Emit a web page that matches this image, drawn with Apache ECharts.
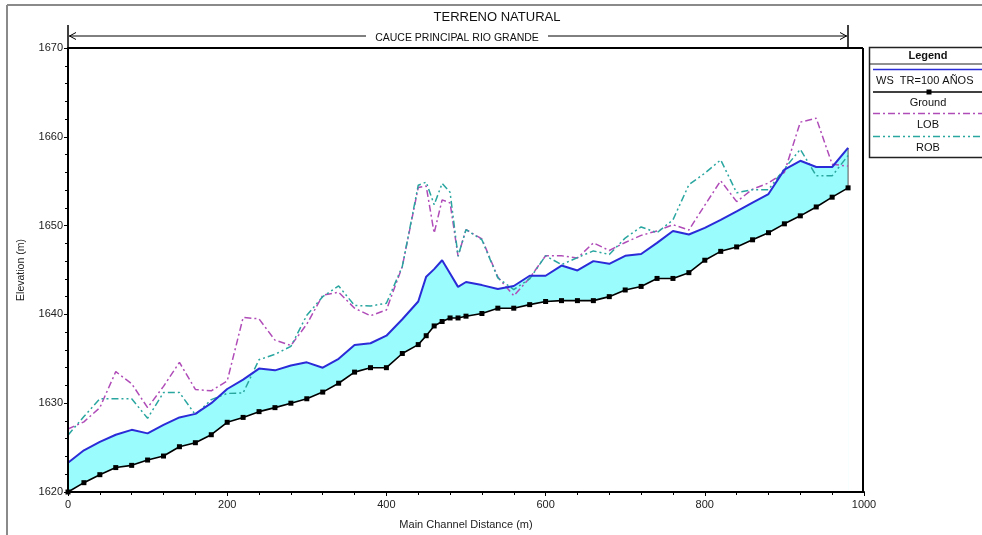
<!DOCTYPE html>
<html>
<head>
<meta charset="utf-8">
<title>TERRENO NATURAL</title>
<script src="https://cdn.jsdelivr.net/npm/echarts@6/dist/echarts.min.js"></script>
<style>
  html, body { margin: 0; padding: 0; background: #fff; }
  #chart { width: 982px; height: 535px; }
</style>
</head>
<body>
<div id="chart"></div>
<script>
// Profile stations along the main channel (m)
const stations = [0, 20, 40, 60, 80, 100, 120, 140, 160, 180, 200, 220, 240, 260, 280, 300, 320, 340, 360, 380, 400, 420, 440,
  450, 460, 470, 480, 490, 500, 520, 540, 560, 580, 600, 620, 640, 660, 680, 700, 720, 740, 760, 780, 800, 820, 840, 860, 880,
  900, 920, 940, 960, 980];

// Water surface, TR = 100 años (m)
const wsElev = [1623.3, 1624.7, 1625.65, 1626.45, 1627.0, 1626.6, 1627.55, 1628.4, 1628.8, 1630.0, 1631.6, 1632.65, 1633.9,
  1633.7, 1634.25, 1634.6, 1634.0, 1635.0, 1636.55, 1636.75, 1637.6, 1639.45, 1641.45,
  1644.25, 1645.1, 1646.1, 1644.6, 1643.1, 1643.65, 1643.3, 1642.85, 1643.2, 1644.35, 1644.35, 1645.5, 1644.95, 1646.0,
  1645.7, 1646.6, 1646.8, 1648.05, 1649.4, 1649.0, 1649.75, 1650.65, 1651.6, 1652.6, 1653.55,
  1656.3, 1657.3, 1656.6, 1656.6, 1658.75];

// Channel bed (m)
const groundElev = [1620.0, 1621.05, 1621.95, 1622.75, 1623.0, 1623.6, 1624.05, 1625.1, 1625.55, 1626.45, 1627.85, 1628.4,
  1629.05, 1629.5, 1630.0, 1630.5, 1631.25, 1632.25, 1633.5, 1634.0, 1634.0, 1635.6, 1636.6,
  1637.6, 1638.7, 1639.2, 1639.6, 1639.6, 1639.8, 1640.1, 1640.7, 1640.7, 1641.1, 1641.45, 1641.55, 1641.55, 1641.55,
  1642.0, 1642.75, 1643.15, 1644.05, 1644.05, 1644.7, 1646.1, 1647.1, 1647.6, 1648.4, 1649.2,
  1650.2, 1651.1, 1652.1, 1653.2, 1654.25];

// Left overbank (m)
const lobElev = [1627.1, 1627.9, 1629.5, 1633.55, 1632.2, 1629.5, 1631.9, 1634.6, 1631.55, 1631.4, 1632.5, 1639.65, 1639.5,
  1637.1, 1636.5, 1638.9, 1642.15, 1642.5, 1640.7, 1639.85, 1640.5, 1645.4, 1654.3,
  1654.45, 1649.15, 1652.9, 1652.55, 1646.55, 1649.55, 1648.5, 1644.2, 1642.1, 1644.1, 1646.6, 1646.6, 1646.35, 1648.05,
  1647.2, 1648.1, 1648.9, 1649.4, 1650.1, 1649.5, 1652.3, 1655.05, 1652.7, 1654.1, 1654.8,
  1656.0, 1661.65, 1662.1, 1656.9, 1656.7];

// Right overbank (m)
const robElev = [1626.4, 1628.5, 1630.5, 1630.5, 1630.5, 1628.3, 1631.2, 1631.2, 1628.7, 1630.4, 1631.1, 1631.15, 1634.9,
  1635.5, 1636.4, 1639.9, 1642.0, 1643.2, 1641.0, 1640.95, 1641.25, 1645.4, 1654.55,
  1654.9, 1652.35, 1654.75, 1653.75, 1646.55, 1649.55, 1648.4, 1644.1, 1642.8, 1644.0, 1646.6, 1645.6, 1646.4, 1647.15,
  1646.75, 1648.6, 1649.85, 1649.2, 1650.65, 1654.6, 1655.9, 1657.4, 1653.7, 1654.05, 1654.05,
  1656.4, 1658.6, 1655.6, 1655.6, 1657.9];

const yTicks = [1620, 1630, 1640, 1650, 1660, 1670];
const xTicks = [0, 200, 400, 600, 800, 1000];

const FONT = "'Liberation Sans', Arial, sans-serif";
const pairs = (ys) => stations.map((x, i) => [x, ys[i]]);
const last = stations.length - 1;

const grid = { left: 68, top: 48, width: 796, height: 444 };

const chart = echarts.init(document.getElementById('chart'), null, { renderer: 'canvas' });

chart.setOption({
  animation: false,
  backgroundColor: '#ffffff',
  grid: grid,
  xAxis: {
    type: 'value', z: 10,
    min: xTicks[0], max: xTicks[xTicks.length - 1], interval: 200,
    name: 'Main Channel Distance (m)',
    nameLocation: 'middle', nameGap: 27,
    nameTextStyle: { fontFamily: FONT, fontSize: 11, color: '#222' },
    axisLine: { lineStyle: { color: '#000', width: 2 } },
    axisTick: { show: true, inside: false, length: 4, lineStyle: { color: '#000', width: 1 } },
    minorTick: { show: true, splitNumber: 5, length: 3, lineStyle: { color: '#000', width: 1 } },
    axisLabel: { fontFamily: FONT, fontSize: 11, color: '#222', margin: 7, formatter: (v) => String(v) },
    splitLine: { show: false }
  },
  yAxis: {
    type: 'value', z: 10,
    min: yTicks[0], max: yTicks[yTicks.length - 1], interval: 10,
    name: 'Elevation (m)',
    nameLocation: 'middle', nameGap: 41,
    nameTextStyle: { fontFamily: FONT, fontSize: 10.5, color: '#222' },
    axisLine: { show: true, lineStyle: { color: '#000', width: 2 } },
    axisTick: { show: true, inside: false, length: 4, lineStyle: { color: '#000', width: 1 } },
    minorTick: { show: true, splitNumber: 5, length: 3, lineStyle: { color: '#000', width: 1 } },
    axisLabel: { fontFamily: FONT, fontSize: 11, color: '#222', margin: 5, formatter: (v) => String(v) },
    splitLine: { show: false }
  },
  series: [
    // water body: fill under the water surface, then mask below the bed
    {
      type: 'line', data: pairs(wsElev), symbol: 'none', silent: true,
      lineStyle: { opacity: 0 }, areaStyle: { color: '#9afcfc', opacity: 1, origin: 'start' }, z: 1
    },
    {
      type: 'line', data: pairs(groundElev), symbol: 'none', silent: true,
      lineStyle: { opacity: 0 }, areaStyle: { color: '#ffffff', opacity: 1, origin: 'start' }, z: 1
    },
    // closing edge at the last station
    {
      type: 'line', data: [[stations[last], groundElev[last]], [stations[last], wsElev[last]]], symbol: 'none',
      lineStyle: { color: '#555', width: 1 }, z: 2
    },
    {
      name: 'LOB', type: 'line', data: pairs(lobElev), symbol: 'none',
      lineStyle: { color: '#b04cb8', width: 1.5, type: [7, 3, 2, 3] }, z: 3
    },
    {
      name: 'ROB', type: 'line', data: pairs(robElev), symbol: 'none',
      lineStyle: { color: '#2aa6a0', width: 1.5, type: [7, 3, 2, 3, 2, 3] }, z: 3
    },
    {
      name: 'Ground', type: 'line', data: pairs(groundElev),
      symbol: 'rect', symbolSize: 5, itemStyle: { color: '#000' },
      lineStyle: { color: '#000', width: 1.6 }, z: 4
    },
    {
      name: 'WS  TR=100 AÑOS', type: 'line', data: pairs(wsElev), symbol: 'none',
      lineStyle: { color: '#2b2bd8', width: 2 }, z: 5
    }
  ],
  graphic: [
    // page frame
    { type: 'line', shape: { x1: 7, y1: 5, x2: 982, y2: 5 }, style: { stroke: '#8a8a8a', lineWidth: 2 } },
    { type: 'line', shape: { x1: 7, y1: 5, x2: 7, y2: 535 }, style: { stroke: '#8a8a8a', lineWidth: 2 } },
    // plot frame (top and right)
    { type: 'line', shape: { x1: 68, y1: 48, x2: 863, y2: 48 }, style: { stroke: '#000', lineWidth: 2 } },
    { type: 'line', shape: { x1: 863, y1: 48, x2: 863, y2: 492 }, style: { stroke: '#000', lineWidth: 2 } },
    // title
    { type: 'text', x: 497, y: 17, style: { text: 'TERRENO NATURAL', font: '13px ' + FONT, fill: '#111', align: 'center', verticalAlign: 'middle' } },
    // reach marker with arrows
    { type: 'line', shape: { x1: 68, y1: 25, x2: 68, y2: 48 }, style: { stroke: '#000', lineWidth: 1.5 } },
    { type: 'line', shape: { x1: 848, y1: 25, x2: 848, y2: 48 }, style: { stroke: '#000', lineWidth: 1.5 } },
    { type: 'line', shape: { x1: 69, y1: 36, x2: 366, y2: 36 }, style: { stroke: '#000', lineWidth: 1 } },
    { type: 'line', shape: { x1: 548, y1: 36, x2: 847, y2: 36 }, style: { stroke: '#000', lineWidth: 1 } },
    { type: 'polyline', shape: { points: [[76, 32.5], [69.5, 36], [76, 39.5]] }, style: { stroke: '#000', fill: null, lineWidth: 1 } },
    { type: 'polyline', shape: { points: [[840, 32.5], [846.5, 36], [840, 39.5]] }, style: { stroke: '#000', fill: null, lineWidth: 1 } },
    { type: 'text', x: 457, y: 38, style: { text: 'CAUCE PRINCIPAL RIO GRANDE', font: '10.5px ' + FONT, fill: '#111', align: 'center', verticalAlign: 'middle' } },
    // legend box
    { type: 'rect', shape: { x: 869.5, y: 47.5, width: 120, height: 110 }, style: { stroke: '#222', fill: '#fff', lineWidth: 1.5 } },
    { type: 'line', shape: { x1: 869.5, y1: 64, x2: 982, y2: 64 }, style: { stroke: '#222', lineWidth: 1 } },
    { type: 'text', x: 928, y: 56, style: { text: 'Legend', font: 'bold 11px ' + FONT, fill: '#111', align: 'center', verticalAlign: 'middle' } },
    { type: 'line', shape: { x1: 873, y1: 69.5, x2: 982, y2: 69.5 }, style: { stroke: '#2b2bd8', lineWidth: 1.5 } },
    { type: 'text', x: 876, y: 80.5, style: { text: 'WS  TR=100 AÑOS', font: '11px ' + FONT, fill: '#111', align: 'left', verticalAlign: 'middle' } },
    { type: 'line', shape: { x1: 873, y1: 92, x2: 982, y2: 92 }, style: { stroke: '#000', lineWidth: 1.5 } },
    { type: 'rect', shape: { x: 926.5, y: 89.5, width: 5, height: 5 }, style: { fill: '#000' } },
    { type: 'text', x: 928, y: 103, style: { text: 'Ground', font: '11px ' + FONT, fill: '#111', align: 'center', verticalAlign: 'middle' } },
    { type: 'line', shape: { x1: 873, y1: 113.5, x2: 982, y2: 113.5 }, style: { stroke: '#b04cb8', lineWidth: 1.5, lineDash: [7, 3, 2, 3] } },
    { type: 'text', x: 928, y: 125, style: { text: 'LOB', font: '11px ' + FONT, fill: '#111', align: 'center', verticalAlign: 'middle' } },
    { type: 'line', shape: { x1: 873, y1: 136.5, x2: 982, y2: 136.5 }, style: { stroke: '#2aa6a0', lineWidth: 1.5, lineDash: [7, 3, 2, 3, 2, 3] } },
    { type: 'text', x: 928, y: 147.5, style: { text: 'ROB', font: '11px ' + FONT, fill: '#111', align: 'center', verticalAlign: 'middle' } }
  ]
});
</script>
</body>
</html>
